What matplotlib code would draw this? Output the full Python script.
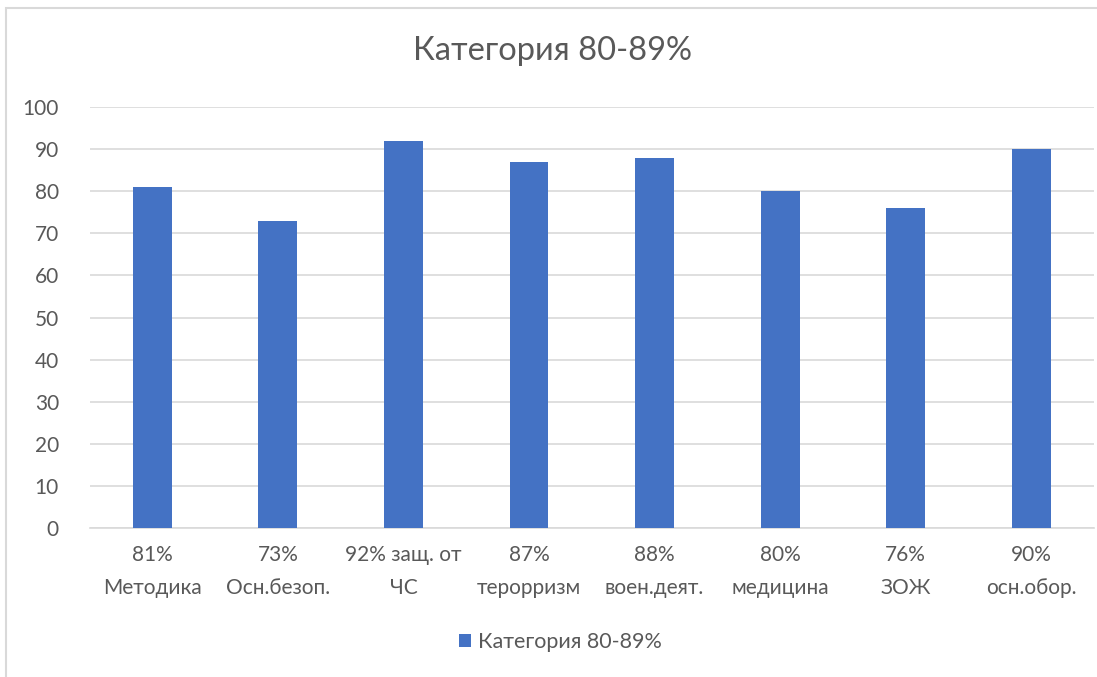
import matplotlib.pyplot as plt
from matplotlib.patches import Rectangle

# data
labels = ['81%\nМетодика', '73%\nОсн.безоп.', '92% защ. от\nЧС', '87%\nтерорризм',
          '88%\nвоен.деят.', '80%\nмедицина', '76%\nЗОЖ', '90%\nосн.обор.']
values = [81, 73, 92, 87, 88, 80, 76, 90]
series_name = 'Категория 80-89%'

plt.rcParams['font.family'] = ['Lato', 'Open Sans', 'DejaVu Sans']
text_col = '#595959'
grid_col = '#D9D9D9'
bar_col = '#4472C4'

fig = plt.figure(figsize=(10.97, 6.77), dpi=100)
ax = fig.add_axes([0.0816, 0.2201, 0.9157, 0.6218])

x = range(len(values))
ax.bar(x, values, width=0.31, color=bar_col, label=series_name, zorder=3)

ax.set_xlim(-0.5, len(values) - 0.5)
ax.set_ylim(0, 100)
ax.set_yticks(range(0, 101, 10))
ax.yaxis.grid(True, color=grid_col, lw=1.2, zorder=0)
ax.set_xticks(list(x))
ax.set_xticklabels(labels, linespacing=1.85)
ax.tick_params(axis='both', length=0, labelsize=15, colors=text_col)
ax.tick_params(axis='x', pad=12)
ax.tick_params(axis='y', pad=22)
for s in ['top', 'right', 'left']:
    ax.spines[s].set_visible(False)
ax.spines['bottom'].set_color(grid_col)
ax.spines['bottom'].set_linewidth(1.2)

fig.text(0.504, 0.925, series_name, ha='center', va='center', fontsize=23.5, color=text_col)

leg = fig.legend(loc='center', bbox_to_anchor=(0.511, 0.052), frameon=False,
                 fontsize=15.5, handlelength=0.55, handleheight=0.55, handletextpad=0.35)
for t in leg.get_texts():
    t.set_color(text_col)

# chart area border (cropped on right and bottom)
fig.patches.append(Rectangle((6 / 1097, -0.1), 1.2, 1 - 8 / 677 + 0.1, transform=fig.transFigure,
                             fill=False, edgecolor=grid_col, lw=1.5))

fig.savefig('out.png', dpi=100)
